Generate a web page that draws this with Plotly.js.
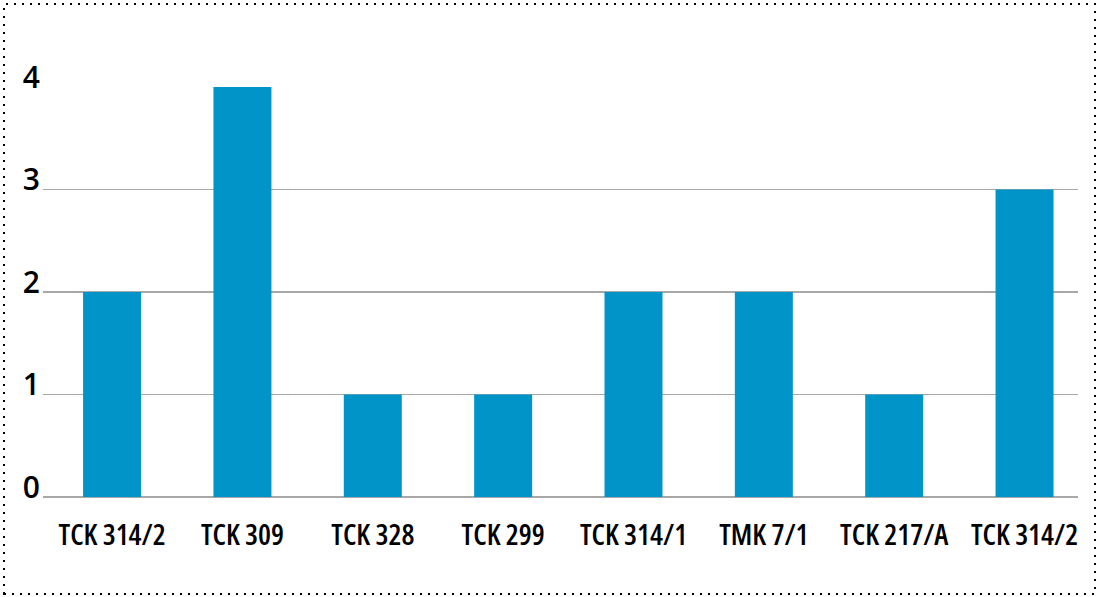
<!DOCTYPE html>
<html>
<head>
<meta charset="utf-8">
<script src="https://cdn.plot.ly/plotly-3.0.1.min.js"></script>
<style>
html,body{margin:0;padding:0;background:#fff;}
#chart{width:1103px;height:597px;}
#chart .xtick text{font-stretch:75%;}
</style>
</head>
<body>
<div id="chart"></div>
<script>
const categories = ["TCK 314/2", "TCK 309", "TCK 328", "TCK 299", "TCK 314/1", "TMK 7/1", "TCK 217/A", "TCK 314/2"];
const values = [2, 4, 1, 1, 2, 2, 1, 3];
const yTickValues = [0, 1, 2, 3, 4];
const yTickLabels = ["0", "1", "2", "3", "4"];

const positions = categories.map((c, i) => i);

const W = 1103, H = 597;
const m = {l: 43, r: 25, t: 87, b: 100};
const pw = W - m.l - m.r, ph = H - m.t - m.b;
const px = v => (v - m.l) / pw;
const py = v => (H - m.b - v) / ph;

const trace = {
  type: 'bar',
  x: positions,
  y: values,
  width: 0.445,
  marker: {color: '#0094c9', line: {width: 0}},
  hoverinfo: 'skip'
};

const layout = {
  width: W, height: H,
  margin: m,
  paper_bgcolor: '#ffffff',
  plot_bgcolor: '#ffffff',
  showlegend: false,
  xaxis: {
    range: [-0.53, 7.41],
    tickmode: 'array',
    tickvals: positions,
    ticktext: categories,
    tickangle: 0,
    showgrid: false,
    zeroline: false,
    showline: false,
    ticks: '',
    ticklabelstandoff: 18,
    tickfont: {family: '"Open Sans", Roboto, sans-serif', size: 29, weight: 600, color: '#000'}
  },
  yaxis: {
    range: [0, 4],
    tickmode: 'array',
    tickvals: yTickValues,
    ticktext: yTickLabels,
    showgrid: true,
    gridcolor: '#a8a8a8',
    gridwidth: 1.3,
    zeroline: true,
    zerolinecolor: '#a8a8a8',
    zerolinewidth: 1.3,
    showline: false,
    ticks: '',
    ticklabelstandoff: 2,
    ticklabelshift: -10,
    tickfont: {family: '"Open Sans", Roboto, sans-serif', size: 30, weight: 600, color: '#000'}
  },
  shapes: [{
    type: 'rect', xref: 'paper', yref: 'paper',
    x0: px(4), x1: px(1095), y0: py(594), y1: py(4),
    line: {color: '#000', width: 2, dash: '2px,6px'},
    fillcolor: 'rgba(0,0,0,0)', layer: 'above'
  }]
};

Plotly.newPlot('chart', [trace], layout, {displayModeBar: false, staticPlot: true});
</script>
</body>
</html>
